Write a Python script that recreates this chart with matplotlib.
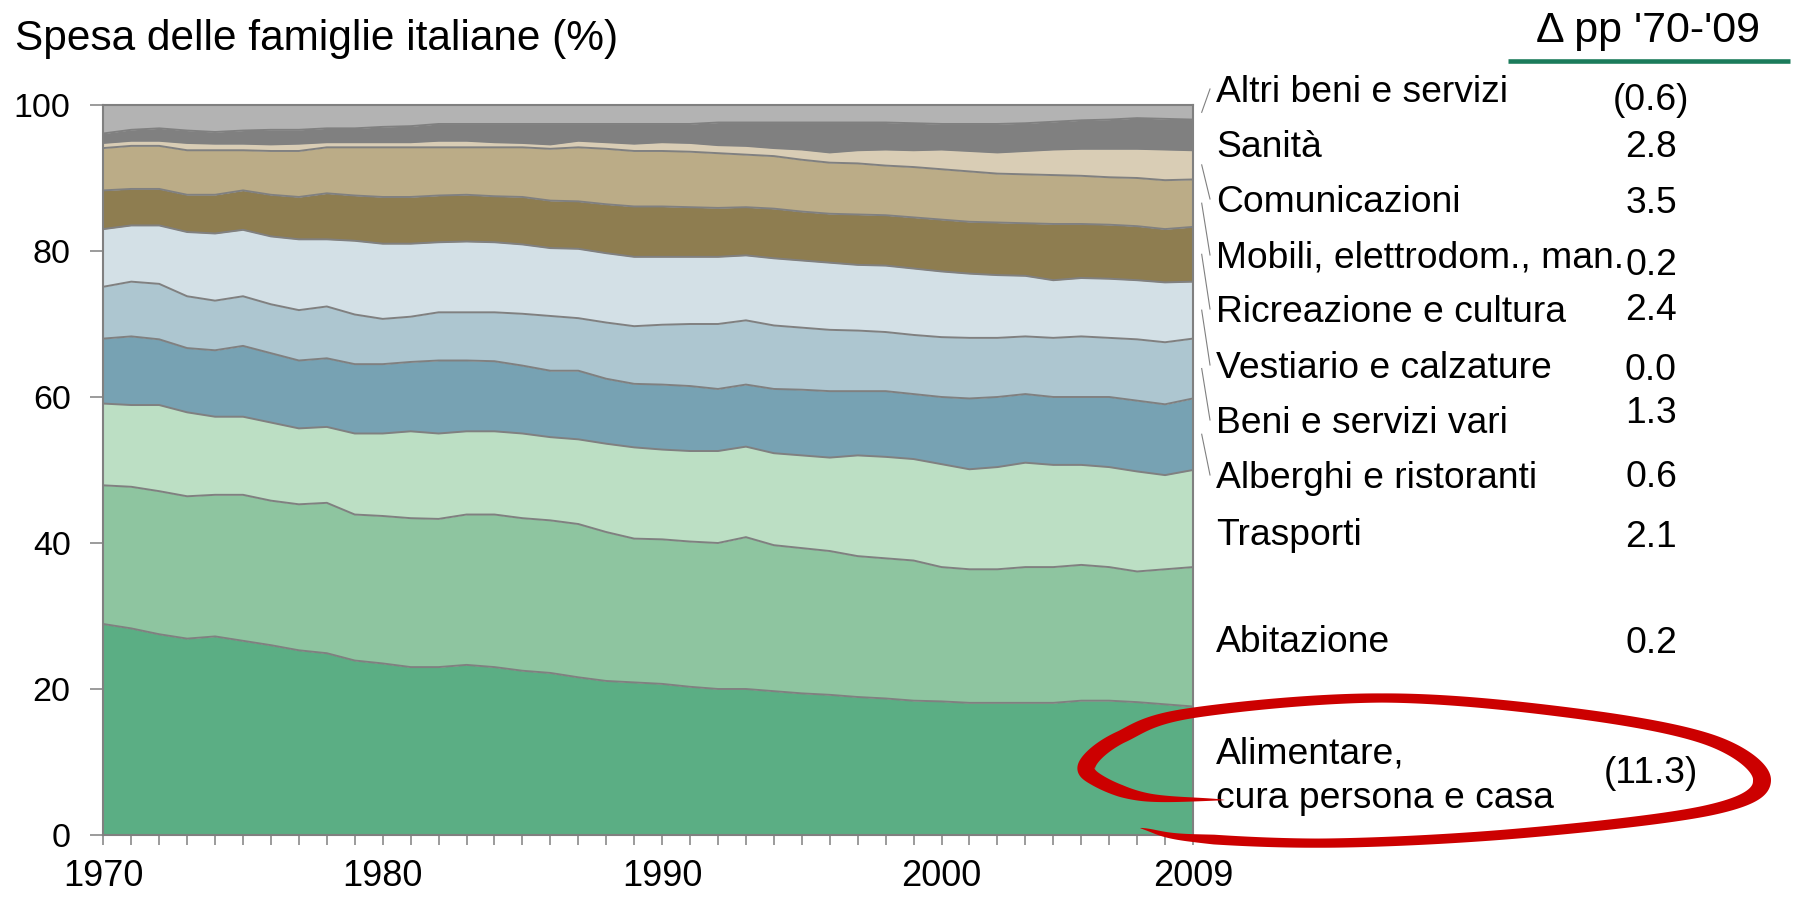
import numpy as np
import matplotlib
matplotlib.use('Agg')
import matplotlib.pyplot as plt
from matplotlib.patches import Polygon

plt.rcParams['font.family'] = ['Liberation Sans', 'DejaVu Sans']

W, H = 1794, 898

anni = list(range(1970, 2010))

# quota cumulata (%) al bordo superiore di ogni strato, dal basso verso l'alto
top_alimentare = [28.9, 28.3, 27.5, 26.9, 27.2, 26.6, 26.0, 25.3, 24.9, 23.9,
                  23.5, 23.0, 23.0, 23.3, 23.0, 22.5, 22.2, 21.6, 21.1, 20.9,
                  20.7, 20.3, 20.0, 20.0, 19.7, 19.4, 19.2, 18.9, 18.7, 18.4,
                  18.3, 18.1, 18.1, 18.1, 18.1, 18.4, 18.4, 18.2, 17.9, 17.6]
top_abitazione = [47.9, 47.7, 47.1, 46.4, 46.6, 46.6, 45.8, 45.3, 45.5, 43.9,
                  43.7, 43.4, 43.3, 43.9, 43.9, 43.4, 43.1, 42.6, 41.5, 40.6,
                  40.5, 40.2, 40.0, 40.8, 39.7, 39.3, 38.9, 38.2, 37.9, 37.6,
                  36.7, 36.4, 36.4, 36.7, 36.7, 37.0, 36.7, 36.1, 36.4, 36.7]
top_trasporti = [59.1, 58.9, 58.9, 57.9, 57.3, 57.3, 56.5, 55.7, 55.9, 55.0,
                 55.0, 55.3, 55.0, 55.3, 55.3, 55.0, 54.5, 54.2, 53.6, 53.1,
                 52.8, 52.6, 52.6, 53.2, 52.3, 52.0, 51.7, 52.0, 51.8, 51.5,
                 50.8, 50.1, 50.4, 51.0, 50.7, 50.7, 50.4, 49.8, 49.3, 50.0]
top_alberghi = [68.0, 68.3, 67.9, 66.7, 66.4, 67.0, 66.0, 65.0, 65.3, 64.5,
                64.5, 64.8, 65.0, 65.0, 64.9, 64.3, 63.6, 63.6, 62.5, 61.8,
                61.7, 61.5, 61.1, 61.7, 61.1, 61.0, 60.8, 60.8, 60.8, 60.4,
                60.0, 59.8, 60.0, 60.4, 60.0, 60.0, 60.0, 59.5, 59.0, 59.8]
top_beni_vari = [75.1, 75.8, 75.5, 73.8, 73.2, 73.8, 72.7, 71.9, 72.4, 71.3,
                 70.7, 71.0, 71.6, 71.6, 71.6, 71.4, 71.1, 70.8, 70.2, 69.7,
                 69.9, 70.0, 70.0, 70.5, 69.8, 69.5, 69.2, 69.1, 68.9, 68.5,
                 68.2, 68.1, 68.1, 68.3, 68.1, 68.3, 68.1, 67.9, 67.5, 68.0]
top_vestiario = [83.0, 83.5, 83.5, 82.6, 82.4, 82.9, 82.0, 81.6, 81.6, 81.4,
                 81.0, 81.0, 81.2, 81.3, 81.2, 80.9, 80.4, 80.3, 79.7, 79.2,
                 79.2, 79.2, 79.2, 79.4, 79.0, 78.7, 78.4, 78.1, 78.0, 77.6,
                 77.2, 76.9, 76.7, 76.6, 76.0, 76.3, 76.2, 76.0, 75.7, 75.8]
top_ricreazione = [88.3, 88.5, 88.5, 87.7, 87.7, 88.3, 87.7, 87.4, 87.9, 87.6,
                   87.4, 87.4, 87.6, 87.7, 87.5, 87.4, 86.9, 86.8, 86.4, 86.1,
                   86.1, 86.0, 85.9, 86.0, 85.8, 85.4, 85.1, 85.0, 84.9, 84.6,
                   84.3, 84.0, 83.9, 83.8, 83.7, 83.7, 83.6, 83.4, 83.0, 83.3]
top_mobili = [94.1, 94.4, 94.4, 93.8, 93.8, 93.8, 93.7, 93.7, 94.2, 94.2,
              94.2, 94.2, 94.2, 94.2, 94.2, 94.2, 94.0, 94.2, 94.0, 93.7,
              93.7, 93.6, 93.4, 93.2, 93.0, 92.5, 92.1, 92.0, 91.7, 91.5,
              91.2, 90.9, 90.6, 90.5, 90.4, 90.3, 90.1, 90.0, 89.7, 89.8]
top_comunicazioni = [94.8, 95.1, 95.1, 94.8, 94.7, 94.7, 94.6, 94.7, 94.9, 94.9,
                     94.9, 94.9, 95.1, 95.1, 94.9, 94.8, 94.6, 95.1, 94.9, 94.7,
                     94.9, 94.8, 94.5, 94.4, 94.1, 93.9, 93.5, 93.8, 93.9, 93.8,
                     93.9, 93.7, 93.5, 93.7, 93.9, 94.0, 94.0, 94.0, 93.9, 93.8]
top_sanita = [96.1, 96.6, 96.8, 96.5, 96.3, 96.5, 96.6, 96.6, 96.8, 96.8,
              97.0, 97.1, 97.4, 97.4, 97.4, 97.4, 97.4, 97.4, 97.4, 97.4,
              97.4, 97.4, 97.6, 97.6, 97.6, 97.6, 97.6, 97.6, 97.6, 97.5,
              97.4, 97.4, 97.4, 97.5, 97.7, 97.9, 98.0, 98.2, 98.1, 98.0]
top_altri = [100.0] * len(anni)

strati = [top_alimentare, top_abitazione, top_trasporti, top_alberghi,
          top_beni_vari, top_vestiario, top_ricreazione, top_mobili,
          top_comunicazioni, top_sanita, top_altri]
colori = ['#5BAE84', '#8EC5A0', '#BCDFC4', '#77A2B3', '#ADC6D0', '#D3E0E6',
          '#8E7D50', '#BBAC87', '#D9CDB5', '#808080', '#B3B3B3']

# colonna di destra, dall'alto verso il basso
etichette = ['Altri beni e servizi', 'Sanità', 'Comunicazioni',
             'Mobili, elettrodom., man.', 'Ricreazione e cultura',
             'Vestiario e calzature', 'Beni e servizi vari',
             'Alberghi e ristoranti', 'Trasporti', 'Abitazione',
             'Alimentare,\ncura persona e casa']
delta_pp = ['(0.6)', '2.8', '3.5', '0.2', '2.4', '0.0', '1.3', '0.6', '2.1',
            '0.2', '(11.3)']

anni_etichetta = [1970, 1980, 1990, 2000, 2009]

GRIGIO = '#808080'

fig = plt.figure(figsize=(W / 100, H / 100), dpi=100)
ax = fig.add_axes([103.3 / W, 1 - 835 / H, (1193 - 103.3) / W, (835 - 105) / H])

sotto = np.zeros(len(anni))
for top, col in zip(strati, colori):
    top = np.array(top)
    ax.fill_between(anni, sotto, top, color=col, lw=0, zorder=1)
    sotto = top
for top in strati[:-1]:
    ax.plot(anni, top, color=GRIGIO, lw=1.4, zorder=2)

ax.set_xlim(1970, 2009)
ax.set_ylim(0, 100)
for s in ax.spines.values():
    s.set_color(GRIGIO)
    s.set_linewidth(1.5)
    s.set_zorder(3)
ax.set_yticks(range(0, 101, 20))
ax.set_xticks(anni)
ax.set_xticklabels([str(a) if a in anni_etichetta else '' for a in anni])
ax.tick_params(axis='y', length=9.5, width=1.1, color=GRIGIO, pad=14, labelsize=24.5)
ax.tick_params(axis='x', length=7.5, width=1.1, color=GRIGIO, pad=10, labelsize=26)

# livello in pixel (y verso il basso) per le annotazioni
ov = fig.add_axes([0, 0, 1, 1])
ov.set_xlim(0, W)
ov.set_ylim(H, 0)
ov.axis('off')

ov.text(15, 50, 'Spesa delle famiglie italiane (%)', fontsize=30.5, va='baseline')
ov.text(1648, 42, "Δ pp '70-'09", fontsize=31, ha='center', va='baseline')
ov.plot([1508, 1790], [61, 61], color='#1B7B5B', lw=3.3, solid_capstyle='butt')

base_etichette = [102, 157, 212, 268, 322, 378, 433, 488, 545, 652, 763]
base_valori = [110, 157, 213, 275, 320, 380, 423, 487, 547, 653, 783]
for lab, val, yl, yv in zip(etichette, delta_pp, base_etichette, base_valori):
    righe = lab.split('\n')
    for k, r in enumerate(righe):
        ov.text(1216, yl + 45 * k, r, fontsize=26.8, va='baseline')
    ov.text(1651, yv, val, fontsize=26.8, ha='center', va='baseline')

# linee guida dal centro dello strato (2009) all'etichetta
guida = {0: 10, 2: 8, 3: 7, 4: 6, 5: 5, 6: 4, 7: 3}  # indice etichetta -> indice strato
fig.canvas.draw()
for i_lab, i_str in guida.items():
    basso = strati[i_str - 1][-1] if i_str > 0 else 0
    medio = (basso + strati[i_str][-1]) / 2
    _, yd = ax.transData.transform((2009, medio))
    ov.plot([1201.7, 1210], [H - yd, base_etichette[i_lab] - 13],
            color=GRIGIO, lw=0.8)

# ellisse rossa a mano libera attorno ad "Alimentare"
punti = np.array([(1225, 800), (1145, 797), (1097, 780), (1088, 763), (1121, 737),
                  (1192, 713), (1382, 698), (1572, 713), (1710, 740), (1762, 780),
                  (1710, 810), (1524, 833), (1335, 843), (1192, 838), (1140, 828)], float)


def catmull_rom(p, n=40):
    P = np.vstack([2 * p[0] - p[1], p, 2 * p[-1] - p[-2]])
    out = []
    t = np.linspace(0, 1, n, endpoint=False)[:, None]
    for i in range(1, len(P) - 2):
        p0, p1, p2, p3 = P[i - 1], P[i], P[i + 1], P[i + 2]
        out.append(0.5 * (2 * p1 + (-p0 + p2) * t + (2 * p0 - 5 * p1 + 4 * p2 - p3) * t ** 2
                          + (-p0 + 3 * p1 - 3 * p2 + p3) * t ** 3))
    out.append(P[-2][None])
    return np.vstack(out)


c = catmull_rom(punti)
tg = np.gradient(c, axis=0)
tg /= np.linalg.norm(tg, axis=1)[:, None]
nrm = np.column_stack([-tg[:, 1], tg[:, 0]])
s = np.concatenate([[0], np.cumsum(np.linalg.norm(np.diff(c, axis=0), axis=1))])
s /= s[-1]
taper = np.clip(np.minimum(s / 0.07, (1 - s) / 0.05), 0, 1) ** 0.7
w = taper * (4.6 + 4.4 * np.abs(nrm[:, 0]))
poly = np.vstack([c + nrm * w[:, None], (c - nrm * w[:, None])[::-1]])
ov.add_patch(Polygon(poly, closed=True, color='#CC0000', lw=0, zorder=5))

fig.savefig('out.png', dpi=100)
